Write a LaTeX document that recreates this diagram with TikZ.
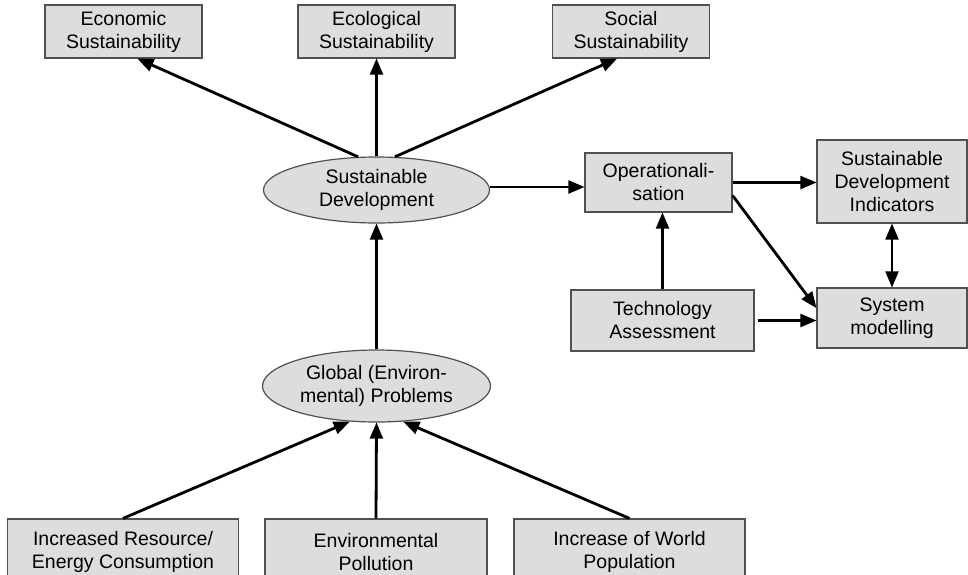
\documentclass[tikz,border=0pt]{standalone}
\usepackage{fontspec}
\setmainfont{Liberation Sans}
\usepackage{tikz}
\usetikzlibrary{arrows,shapes.geometric}
\definecolor{boxgray}{RGB}{221,221,221}
\definecolor{linegray}{RGB}{80,80,80}
\tikzset{
  textnode/.style = {align=center, inner sep=0pt, text centered,
    font=\fontsize{19.5}{23}\selectfont},
  sbox/.style = {textnode, rectangle, draw=linegray, fill=boxgray,
    line width=1.2pt},% rechteckiger Kasten
  sell/.style = {textnode, ellipse, draw=linegray, fill=boxgray,
    line width=1.2pt},% Ellipse
  link/.style = {->, line width=2.8pt}
}
\begin{document}
\begin{tikzpicture}[x=1pt,y=-1pt,>=triangle 45]
  \useasboundingbox (0,0) rectangle (968,574);
  % obere Reihe
  \node [sbox, minimum width=157pt, minimum height=53pt] (eco) at (123.5,31.5) {Economic\\Sustainability};
  \node [sbox, minimum width=157pt, minimum height=53pt] (ecl) at (376.5,31.5) {Ecological\\Sustainability};
  \node [sbox, minimum width=157pt, minimum height=53pt] (soc) at (631,31.5) {Social\\Sustainability};
  % Mitte
  \node [sell, minimum width=226pt, minimum height=66pt] (sd) at (376.5,190) {Sustainable\\Development};
  \node [sell, minimum width=228pt, minimum height=72pt] (gp) at (376.5,386) {Global (Environ-\\mental) Problems};
  % rechte Seite
  \node [sbox, minimum width=147pt, minimum height=59pt] (op) at (658.5,182.5) {Operationali-\\sation};
  \node [sbox, minimum width=150pt, minimum height=83pt] (sdi) at (892,181.5) {Sustainable\\Development\\Indicators};
  \node [sbox, minimum width=183pt, minimum height=61pt] (ta) at (662.5,320.5) {Technology\\Assessment};
  \node [sbox, minimum width=150pt, minimum height=60pt] (sm) at (892,318) {System\\modelling};
  % untere Reihe
  \node [sbox, minimum width=231pt, minimum height=66pt] (res) at (123,552) {Increased Resource/\\Energy Consumption};
  \node [sbox, minimum width=222pt, minimum height=66pt] (pol) at (376,552) {Environmental\\Pollution};
  \node [sbox, minimum width=231pt, minimum height=66pt] (pop) at (629.5,552) {Increase of World\\Population};

  \draw [link] (sd.119) -- ([xshift=14pt]eco.south);
  \draw [link] (sd.north) -- (ecl.south);
  \draw [link] (sd.61) -- ([xshift=-14pt]soc.south);
  \draw [link] (gp.north) -- (sd.south);
  \foreach \from/\to in {res.north/gp.233,pol.north/gp.south,pop.north/gp.307}
    \draw [link] (\from) -- (\to);
  \draw [link] ([yshift=3pt]sd.east) -- ([yshift=3pt]sd.east -| op.west);
  \draw [link] (op.east) -- (op.east -| sdi.west);
  \draw [link] ([yshift=-13pt]op.east) -- ([yshift=10pt]sm.west);
  \draw [link] (ta.north) -- (ta.north |- op.south);
  \draw [link] ([xshift=3pt]ta.east) -- (ta.east -| sm.west);
  \draw [<->, line width=2.8pt] (sdi.south) -- (sm.north);
\end{tikzpicture}
\end{document}
